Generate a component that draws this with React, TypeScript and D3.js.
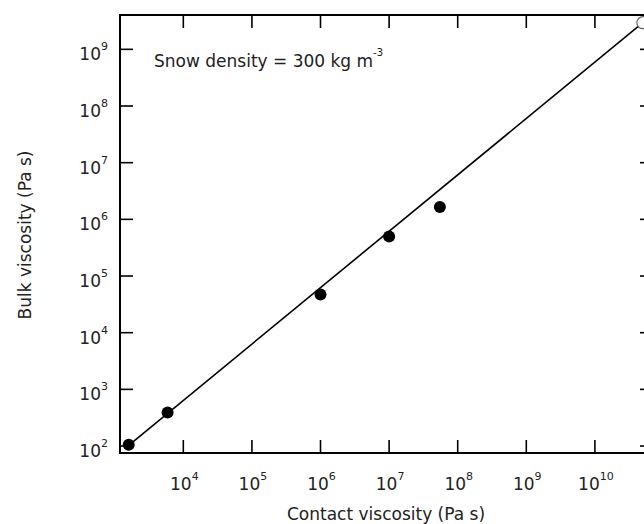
import React from "react";
import * as d3 from "d3";

const contactViscosity = [1.6e3, 5.9e3, 1.0e6, 1.0e7, 5.5e7];
const bulkViscosity = [105, 390, 4.7e4, 5.0e5, 1.65e6];
const fitLineX = [1.6e3, 5.0e10];
const fitLineY = [103, 2.95e9];
const openPointX = [5.0e10];
const openPointY = [2.95e9];
const xTickExponents = [4, 5, 6, 7, 8, 9, 10];
const yTickExponents = [2, 3, 4, 5, 6, 7, 8, 9];
const xTitle = "Contact viscosity (Pa s)";
const yTitle = "Bulk viscosity (Pa s)";
const annotation = "Snow density = 300 kg m";
const annotationSup = "-3";

const W = 644;
const H = 524;
const left = 120;
const right = 653;
const top = 15;
const bottom = 453;

const FONT = "'DejaVu Sans', Verdana, sans-serif";

export default function App() {
  const x = d3
    .scaleLog()
    .domain([Math.pow(10, 3.077), Math.pow(10, 10.847)])
    .range([left, right]);
  const y = d3
    .scaleLog()
    .domain([Math.pow(10, 1.877), Math.pow(10, 9.606)])
    .range([bottom, top]);

  const line = d3
    .line<number>()
    .x((d, i) => x(fitLineX[i]))
    .y((d, i) => y(fitLineY[i]));

  const tickLen = 13;

  return (
    <svg
      width={W}
      height={H}
      style={{ position: "fixed", left: 0, top: 0, background: "#fff" }}
      fontFamily={FONT}
    >
      <rect x={0} y={0} width={W} height={H} fill="#fff" />
      <rect
        x={left}
        y={top}
        width={right - left}
        height={bottom - top}
        fill="none"
        stroke="#000"
        strokeWidth={2}
      />
      {xTickExponents.map((e) => {
        const xv = x(Math.pow(10, e));
        return (
          <g key={"xt" + e}>
            <line x1={xv} x2={xv} y1={bottom} y2={bottom - tickLen} stroke="#000" strokeWidth={1.6} />
            <line x1={xv} x2={xv} y1={top} y2={top + tickLen} stroke="#000" strokeWidth={1.6} />
            <text x={xv + 1} y={490} textAnchor="middle" fontSize={17} fill="#222">
              10
              <tspan dy={-10} fontSize={11}>
                {e}
              </tspan>
            </text>
          </g>
        );
      })}
      {yTickExponents.map((e) => {
        const yv = y(Math.pow(10, e));
        return (
          <g key={"yt" + e}>
            <line x1={left} x2={left + tickLen} y1={yv} y2={yv} stroke="#000" strokeWidth={1.6} />
            <line x1={right} x2={right - tickLen} y1={yv} y2={yv} stroke="#000" strokeWidth={1.6} />
            <text x={108} y={yv + 11} textAnchor="end" fontSize={17} fill="#222">
              10
              <tspan dy={-10} fontSize={11}>
                {e}
              </tspan>
            </text>
          </g>
        );
      })}
      <path d={line(fitLineX) || ""} fill="none" stroke="#000" strokeWidth={1.6} />
      {contactViscosity.map((c, i) => (
        <circle key={"p" + i} cx={x(c)} cy={y(bulkViscosity[i])} r={6} fill="#000" />
      ))}
      {openPointX.map((c, i) => (
        <circle
          key={"o" + i}
          cx={x(c)}
          cy={y(openPointY[i])}
          r={6}
          fill="#fff"
          stroke="#666"
          strokeWidth={1.2}
        />
      ))}
      <text x={154} y={67} fontSize={17} fill="#222">
        {annotation}
        <tspan dy={-11} fontSize={10}>
          {annotationSup}
        </tspan>
      </text>
      <text x={386} y={520} textAnchor="middle" fontSize={17} fill="#222">
        {xTitle}
      </text>
      <text
        transform={`translate(31,235) rotate(-90)`}
        textAnchor="middle"
        fontSize={17}
        fill="#222"
      >
        {yTitle}
      </text>
    </svg>
  );
}
